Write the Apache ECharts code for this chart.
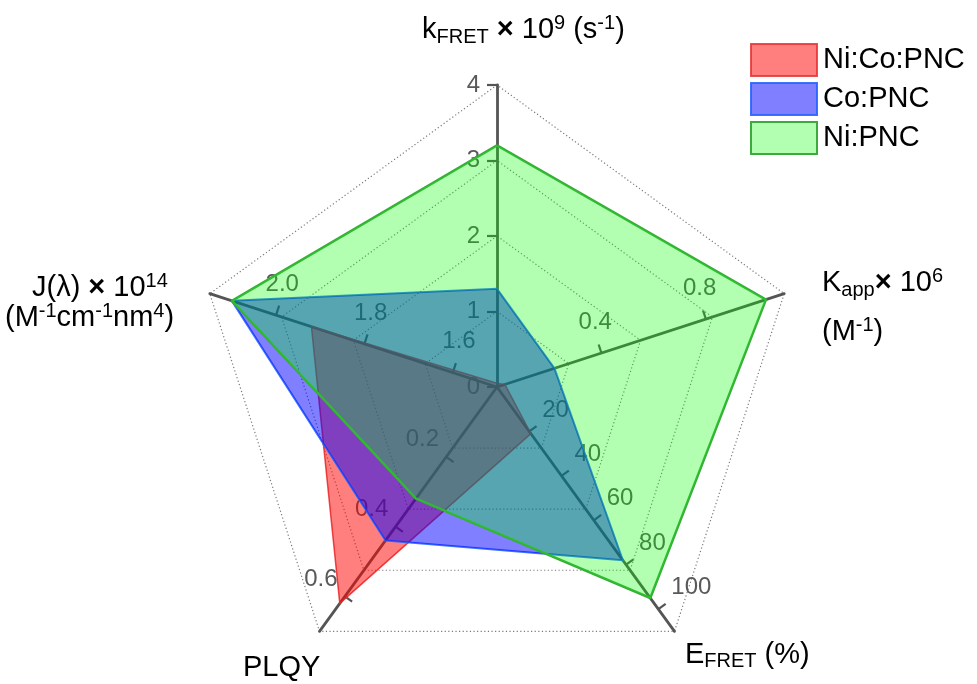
<!DOCTYPE html>
<html>
<head>
<meta charset="utf-8">
<script src="https://cdn.jsdelivr.net/npm/echarts@6/dist/echarts.min.js"></script>
<style>
  html, body { margin: 0; padding: 0; background: #fff; }
  #chart { width: 977px; height: 684px; }
</style>
</head>
<body>
<div id="chart"></div>
<script>
// Five indicators, listed counter-clockwise from the top axis
const indicatorNames = ['kFRET', 'J(λ)', 'PLQY', 'EFRET', 'Kapp'];
const axisMin = [0, 1.5, 0, 0, 0];
const axisMax = [4, 2.15, 0.7, 110, 1.1];

// Tick / label values per axis
const tickValues = [
  [0, 1, 2, 3, 4],
  [1.6, 1.8, 2.0],
  [0.2, 0.4, 0.6],
  [20, 40, 60, 80, 100],
  [0.4, 0.8]
];
const labelDecimals = [0, 1, 1, 0, 1];

// Series values in indicator order
const seriesNames = ['Ni:Co:PNC', 'Co:PNC', 'Ni:PNC'];
const niCoPNC = [0.05, 1.92, 0.62, 21, 0.03];
const coPNC   = [1.3, 2.1, 0.44, 78, 0.22];
const niPNC   = [3.2, 2.1, 0.32, 95, 1.03];

const FONT = '"Liberation Sans", Arial, sans-serif';
const AXIS_GRAY = '#555555';
const fills = ['rgba(255,0,0,0.5)', 'rgba(0,0,255,0.5)', 'rgba(0,255,0,0.3)'];
const edges = ['rgba(230,50,50,0.85)', 'rgba(40,100,255,0.9)', 'rgb(60,170,60)'];
const edgeWidths = [1.5, 2, 2.5];

// Which side of each axis its ticks and labels sit on
const axisSide = [
  { tickLen: 10, margin: 17 },
  { tickLen: -10, margin: -20, align: 'center', verticalAlign: 'bottom' },
  { tickLen: 9, margin: -9, align: 'right', verticalAlign: 'bottom' },
  { tickLen: 9, margin: 16, align: 'left', verticalAlign: 'bottom' },
  { tickLen: 9, margin: 20, align: 'center', verticalAlign: 'bottom' }
];

const CENTER = [497, 387];
const RADIUS = 302;

const gridIndicators = indicatorNames.map((n, i) => ({ name: n, min: axisMin[i], max: axisMax[i] }));

const tickIndicators = indicatorNames.map((n, i) => {
  const s = axisSide[i];
  const lab = {
    customValues: tickValues[i],
    margin: s.margin,
    formatter: (v) => Number(v).toFixed(labelDecimals[i])
  };
  if (s.align) lab.align = s.align;
  if (s.verticalAlign) lab.verticalAlign = s.verticalAlign;
  return {
    name: n, min: axisMin[i], max: axisMax[i],
    axisTick: { customValues: tickValues[i], length: s.tickLen },
    axisLabel: lab
  };
});

const dataSets = [niCoPNC, coPNC, niPNC];

const rich = {
  m: { fontSize: 29, lineHeight: 34, fontFamily: FONT, color: '#000' },
  x: { fontSize: 29, lineHeight: 34, fontFamily: FONT, color: '#000', fontWeight: 'bold' },
  sub: { fontSize: 20, lineHeight: 20, verticalAlign: 'bottom', fontFamily: FONT, color: '#000' },
  sup: { fontSize: 20, lineHeight: 19, verticalAlign: 'top', fontFamily: FONT, color: '#000' }
};

function title(text, left, top) {
  return {
    type: 'text', left: left, top: top, z: 10,
    style: { text: text, rich: rich, font: '29px ' + FONT, fill: '#000' }
  };
}

const chart = echarts.init(document.getElementById('chart'), null, { renderer: 'canvas' });

chart.setOption({
  animation: false,
  backgroundColor: '#fff',
  legend: {
    orient: 'vertical',
    left: 750,
    top: 43,
    padding: 0,
    itemWidth: 66,
    itemHeight: 32,
    itemGap: 5,
    icon: 'rect',
    textStyle: { fontSize: 29, color: '#000', fontFamily: FONT, padding: [0, 0, 0, 1] },
    data: seriesNames.map((n, i) => ({
      name: n,
      itemStyle: { color: fills[i], borderColor: edges[i], borderWidth: 2 }
    }))
  },
  radar: [
    {
      center: CENTER,
      radius: RADIUS,
      startAngle: 90,
      splitNumber: 4,
      shape: 'polygon',
      indicator: gridIndicators,
      axisName: { show: false },
      axisLine: { show: true, lineStyle: { color: AXIS_GRAY, width: 2.8 } },
      axisTick: { show: false },
      axisLabel: { show: false },
      splitLine: { show: true, lineStyle: { color: '#7a7a7a', width: 1.2, type: [1.2, 2.4] } },
      splitArea: { show: false }
    },
    {
      center: CENTER,
      radius: RADIUS,
      startAngle: 90,
      splitNumber: 4,
      shape: 'polygon',
      indicator: tickIndicators,
      axisName: { show: false },
      axisLine: { show: false },
      axisTick: { show: true, lineStyle: { color: AXIS_GRAY, width: 2.2 } },
      axisLabel: { show: true, fontSize: 24, color: '#595959', fontFamily: FONT },
      splitLine: { show: false },
      splitArea: { show: false }
    }
  ],
  series: dataSets.map((vals, i) => ({
    type: 'radar',
    name: seriesNames[i],
    radarIndex: 0,
    symbol: 'none',
    z: 2 + i,
    lineStyle: { color: edges[i], width: edgeWidths[i] },
    itemStyle: { color: fills[i] },
    areaStyle: { color: fills[i], opacity: 1 },
    data: [{ name: seriesNames[i], value: vals }]
  })),
  graphic: [
    title('{m|k}{sub|FRET}{x| ×}{m| 10}{sup|9}{m| (s}{sup|-1}{m|)}', 422, 13),
    title('{m|K}{sub|app}{x|×}{m| 10}{sup|6}', 822, 266),
    title('{m|(M}{sup|-1}{m|)}', 822, 315),
    title('{m|E}{sub|FRET}{m| (%)}', 685, 640),
    title('{m|PLQY}', 243, 653),
    title('{m|J(λ)}{x| ×}{m| 10}{sup|14}', 32, 271),
    title('{m|(M}{sup|-1}{m|cm}{sup|-1}{m|nm}{sup|4}{m|)}', 5, 301)
  ]
});
</script>
</body>
</html>
